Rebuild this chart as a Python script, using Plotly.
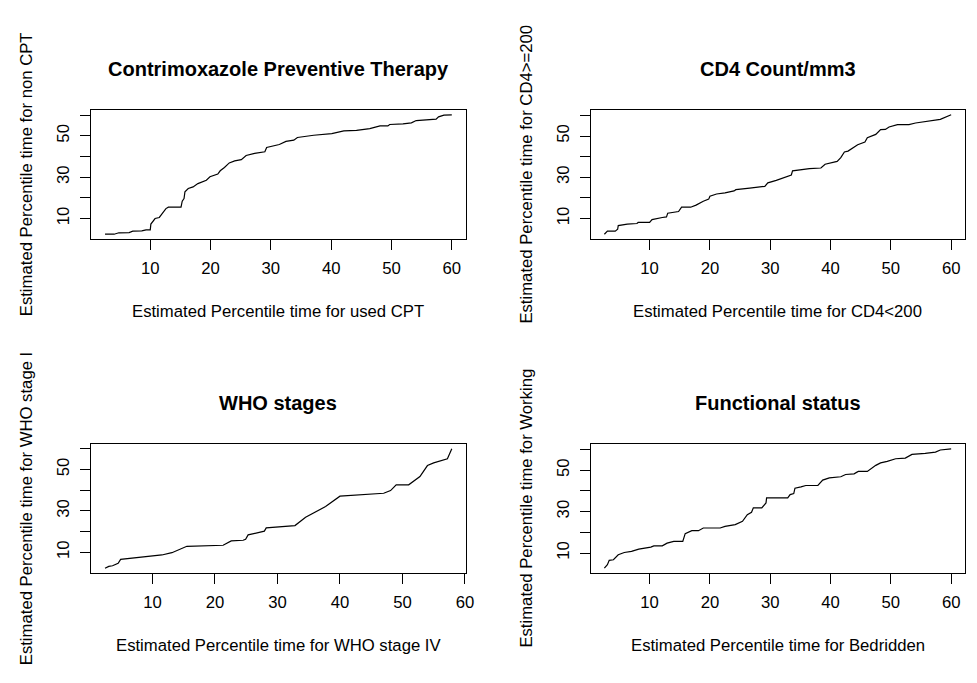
import plotly.graph_objects as go

# ---------------- data ----------------
titles = ["Contrimoxazole Preventive Therapy", "CD4 Count/mm3", "WHO stages", "Functional status"]
x_labels = ["Estimated Percentile time for used CPT", "Estimated Percentile time for CD4<200",
            "Estimated Percentile time for WHO stage IV", "Estimated Percentile time for Bedridden"]
y_labels = ["Estimated Percentile time for non CPT", "Estimated Percentile time for CD4>=200",
            "Estimated Percentile time for WHO stage I", "Estimated Percentile time for Working"]

cpt_x = [2.5, 4.0, 4.8, 6.5, 7.1, 8.6, 9.3, 10.0, 10.1, 10.8, 11.5, 12.6, 13.0, 15.1, 15.3, 15.6, 15.75,
         16.3, 17.1, 17.9, 19.3, 19.9, 21.2, 21.6, 22.3, 23.1, 24.0, 25.1, 25.9, 27.3, 29.0, 29.3, 31.4,
         32.5, 33.8, 34.4, 37.1, 40.1, 42.1, 44.2, 46.4, 48.1, 49.4, 49.7, 51.9, 53.3, 54.1, 57.4, 57.8,
         58.7, 60.0]
cpt_y = [2.4, 2.4, 3.1, 3.2, 3.9, 4.0, 4.5, 4.5, 7.3, 10.0, 10.5, 14.8, 15.5, 15.5, 18.4, 19.7, 22.9,
         24.5, 25.3, 26.9, 28.5, 30.2, 31.5, 33.1, 34.7, 36.9, 37.9, 38.5, 40.5, 41.5, 42.3, 44.4, 45.8,
         47.3, 47.9, 49.2, 50.3, 51.1, 52.4, 52.7, 53.5, 54.8, 54.8, 55.5, 55.8, 56.3, 57.4, 58.1, 59.2,
         60.0, 60.2]

cd4_x = [2.5, 3.0, 4.3, 4.7, 4.8, 6.3, 7.9, 8.1, 10.0, 10.4, 12.1, 12.8, 13.0, 14.8, 15.3, 16.8, 17.7,
         18.9, 19.8, 20.0, 21.1, 22.5, 24.0, 24.3, 26.6, 29.1, 29.6, 31.0, 33.5, 33.7, 36.5, 38.4, 39.1,
         41.1, 41.7, 42.3, 42.9, 44.5, 45.7, 46.1, 47.5, 48.3, 49.1, 49.7, 51.1, 53.0, 54.1, 57.4, 58.2,
         60.0]
cd4_y = [2.4, 3.9, 3.9, 4.8, 6.6, 7.3, 7.6, 8.1, 8.1, 9.5, 10.5, 10.8, 12.6, 13.4, 15.5, 15.5, 16.5,
         18.4, 19.4, 20.8, 21.9, 22.4, 23.4, 24.0, 24.7, 25.6, 27.3, 28.5, 31.1, 33.1, 34.2, 34.5, 36.3,
         37.7, 39.5, 42.3, 42.7, 45.8, 47.1, 49.2, 50.8, 53.1, 53.2, 54.4, 55.5, 55.5, 56.3, 57.6, 58.1,
         60.3]

who_x = [2.4, 3.0, 3.6, 4.5, 4.9, 7.8, 10.4, 11.5, 13.1, 15.5, 21.3, 22.6, 24.5, 24.9, 25.3, 27.9, 28.2,
         31.1, 32.8, 34.5, 36.1, 37.7, 40.0, 42.8, 47.0, 48.1, 49.0, 51.0, 52.8, 54.0, 55.0, 57.2, 57.9]
who_y = [2.3, 3.2, 3.5, 4.7, 6.6, 7.4, 8.2, 8.7, 9.8, 12.9, 13.4, 15.5, 15.8, 16.3, 18.4, 20.2, 21.8,
         22.3, 22.9, 26.9, 29.4, 32.1, 37.1, 37.6, 38.5, 39.8, 42.6, 42.6, 46.6, 51.9, 53.2, 55.2, 60.0]

fun_x = [2.5, 3.0, 3.3, 4.0, 4.8, 5.8, 7.0, 8.2, 10.2, 10.7, 12.1, 12.9, 14.0, 15.5, 15.9, 17.0, 18.1,
         18.9, 21.7, 22.5, 24.2, 25.4, 26.2, 26.9, 27.2, 28.6, 29.3, 29.4, 32.9, 33.3, 33.9, 34.1, 35.1,
         35.9, 37.9, 38.7, 39.8, 41.7, 42.5, 43.9, 44.6, 46.1, 47.5, 48.3, 49.4, 50.8, 52.4, 53.5, 55.7,
         57.4, 58.2, 60.0]
fun_y = [2.7, 4.4, 6.5, 6.8, 9.2, 10.3, 10.8, 11.9, 12.9, 13.5, 13.5, 14.8, 15.6, 15.6, 19.4, 20.8, 20.8,
         22.1, 22.1, 22.9, 23.7, 25.3, 28.5, 29.7, 31.8, 31.8, 34.2, 36.6, 36.6, 38.2, 38.7, 41.3, 41.9,
         42.6, 42.6, 45.2, 46.3, 46.8, 47.9, 48.2, 49.4, 49.4, 52.3, 53.5, 54.2, 55.5, 55.8, 57.6, 58.1,
         58.7, 59.7, 60.3]

x_ticks = [10, 20, 30, 40, 50, 60]
y_ticks = [10, 20, 30, 40, 50, 60]
y_tick_text = ["10", "", "30", "", "50", ""]

series = [(cpt_x, cpt_y), (cd4_x, cd4_y), (who_x, who_y), (fun_x, fun_y)]

# ---------------- layout geometry (pixels) ----------------
W, H = 977, 683
FONT = "Liberation Sans, Arial, sans-serif"
FS = 16.7
col_px = [(92, 470), (596, 974)]
row_px = [(110, 239), (444, 573)]


def px_x(p):
    return p / W


def px_y(p):
    return 1 - p / H


def pad(v):
    lo, hi = min(v), max(v)
    d = (hi - lo) * 0.04
    return [lo - d, hi + d]


fig = go.Figure()
layout = dict(
    width=W, height=H, margin=dict(l=0, r=0, t=0, b=0),
    paper_bgcolor="white", plot_bgcolor="white", showlegend=False,
    font=dict(family=FONT, size=FS, color="black"),
)
annotations = []

for i, (xs, ys) in enumerate(series):
    r, c = divmod(i, 2)
    n = "" if i == 0 else str(i + 1)
    fig.add_trace(go.Scatter(x=xs, y=ys, mode="lines", line=dict(color="black", width=1.2),
                             xaxis="x" + n, yaxis="y" + n, hoverinfo="skip"))
    x0, x1 = col_px[c]
    y0, y1 = row_px[r]
    common = dict(showgrid=False, zeroline=False, showline=True, mirror=True, linecolor="black",
                  linewidth=1, ticks="outside", ticklen=10, tickwidth=1, tickcolor="black",
                  tickfont=dict(family=FONT, size=FS, color="black"))
    layout["xaxis" + n] = dict(common, domain=[px_x(x0), px_x(x1)], range=pad(xs),
                               tickvals=x_ticks, ticktext=[str(t) for t in x_ticks],
                               anchor="y" + n, ticklabelstandoff=4)
    layout["yaxis" + n] = dict(common, domain=[px_y(y1), px_y(y0)], range=pad(ys),
                               tickvals=y_ticks, ticktext=y_tick_text, tickangle=-90,
                               anchor="x" + n, ticklabelstandoff=4)
    cx = (x0 + x1) / 2
    cy = (y0 + y1) / 2
    # title
    annotations.append(dict(text="<b>" + titles[i] + "</b>", x=px_x(cx), y=px_y(y0 - 41),
                            xref="paper", yref="paper", xanchor="center", yanchor="middle",
                            showarrow=False, font=dict(family=FONT, size=20, color="black")))
    # x label
    annotations.append(dict(text=x_labels[i], x=px_x(cx), y=px_y(y1 + 72),
                            xref="paper", yref="paper", xanchor="center", yanchor="middle",
                            showarrow=False, font=dict(family=FONT, size=FS, color="black")))
    # y label
    annotations.append(dict(text=y_labels[i], x=px_x(x0 - 65), y=px_y(cy), textangle=-90,
                            xref="paper", yref="paper", xanchor="center", yanchor="middle",
                            showarrow=False, font=dict(family=FONT, size=FS, color="black")))

layout["annotations"] = annotations
fig.update_layout(**layout)
fig.write_html("out.html")
